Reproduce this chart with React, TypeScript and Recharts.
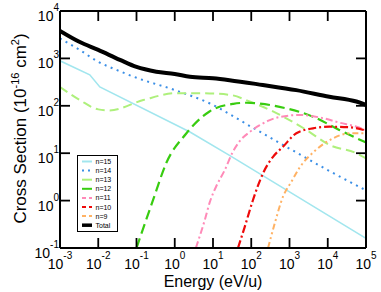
import React from 'react';
import { LineChart, Line, XAxis, YAxis, Legend } from 'recharts';

// ---- tick values ----
const X_TICKS = [1e-3, 1e-2, 1e-1, 1, 10, 100, 1e3, 1e4, 1e5];
const Y_TICKS = [0.1, 1, 10, 100, 1e3, 1e4];

// ---- series (energy in eV/u, cross section in 1e-16 cm^2) ----
const n15E = [0.001, 0.006, 0.011, 2.5, 27, 100000];
const n15V = [890, 450, 250, 28, 9, 0.16];

const n14E = [0.001, 0.0033, 0.01, 0.032, 0.1, 1, 8.3, 100, 1000, 10000, 100000];
const n14V = [2650, 1500, 850, 560, 390, 215, 112, 36, 12.5, 4.4, 1.65];

const n13E = [0.001, 0.0033, 0.01, 0.02, 0.15, 1.1, 4.6, 28, 91, 370, 2750, 11000, 56000, 100000];
const n13V = [250, 132, 84, 80, 132, 185, 185, 170, 123, 76, 31, 15, 10, 7.8];

const n12E = [0.1, 0.27, 0.6, 2, 8.1, 34, 75, 160, 550, 4100, 20000, 91000, 100000];
const n12V = [0.1, 1.02, 6.2, 26, 76, 110, 116, 112, 95, 59, 31, 17.4, 16.8];

const n11E = [3.56, 6.1, 8.25, 12.6, 20.3, 32.9, 50, 91, 167, 304, 555, 1850, 7360, 20500, 57000, 100000];
const n11V = [0.1, 0.39, 0.93, 2.13, 4.4, 10.6, 18, 28, 39, 50, 58, 64, 55, 44, 36, 31];

const n10E = [45, 67.6, 111, 203, 371, 676, 1510, 4110, 11200, 37300, 100000];
const n10V = [0.1, 0.28, 1.03, 3.77, 8.4, 13.7, 26.3, 33.5, 36.2, 35.2, 30];

const n9E = [275, 411, 676, 1120, 1850, 4550, 13700, 37300, 100000];
const n9V = [0.1, 0.33, 1.21, 2.5, 5.0, 11.1, 20.6, 26.3, 26.3];

const totalE = [0.001, 0.0032, 0.01, 0.037, 0.1, 0.33, 1, 2.5, 10, 27, 200, 1500, 11000, 56000, 100000];
const totalV = [3800, 2240, 1510, 930, 660, 525, 470, 410, 380, 347, 275, 214, 155, 123, 105];

const zip = (e: number[], v: number[]) => e.map((x, i) => ({ x, y: v[i] }));

const FONT = '"Liberation Sans", Arial, Helvetica, sans-serif';
const AXIS_W = 2;
const TICK_W = 1.8;

const series = [
  { name: 'n=15', data: zip(n15E, n15V), color: '#a2e6ee', w: 1.6, dash: undefined, ldash: undefined, curve: 'linear' },
  { name: 'n=14', data: zip(n14E, n14V), color: '#3b8fe6', w: 2, dash: '2 4.5', ldash: '2 4', curve: 'monotone' },
  { name: 'n=13', data: zip(n13E, n13V), color: '#aef07c', w: 2, dash: '9 5', ldash: undefined, curve: 'monotone' },
  { name: 'n=12', data: zip(n12E, n12V), color: '#38cc10', w: 2.2, dash: '10 5', ldash: undefined, curve: 'monotone' },
  { name: 'n=11', data: zip(n11E, n11V), color: '#ff8ab8', w: 2, dash: '7 3 2 3', ldash: '4 3', curve: 'monotone' },
  { name: 'n=10', data: zip(n10E, n10V), color: '#ee0a0a', w: 2.2, dash: '8 3 2 3', ldash: '4 3', curve: 'monotone' },
  { name: 'n=9', data: zip(n9E, n9V), color: '#ffb264', w: 2, dash: '6 3 2 3 2 3', ldash: '4 3', curve: 'monotone' },
  { name: 'Total', data: zip(totalE, totalV), color: '#000000', w: 4, dash: undefined, ldash: undefined, curve: 'monotone' },
];

const expOf = (v: number) => Math.round(Math.log10(v));

const BottomTick = (props: any) => {
  const { x, y, payload } = props;
  return (
    <g>
      <line x1={x} y1={y} x2={x} y2={y - 10} stroke="#000" strokeWidth={TICK_W} />
      <text x={x} y={y + 21} textAnchor="middle" fontFamily={FONT} fill="#000">
        <tspan fontSize={14}>10</tspan>
        <tspan fontSize={10} dy={-10}>{expOf(payload.value)}</tspan>
      </text>
    </g>
  );
};

const TopTick = (props: any) => {
  const { x, y } = props;
  return <line x1={x} y1={y} x2={x} y2={y + 10} stroke="#000" strokeWidth={TICK_W} />;
};

const LeftTick = (props: any) => {
  const { x, y, payload } = props;
  return (
    <g>
      <line x1={x} y1={y} x2={x + 10} y2={y} stroke="#000" strokeWidth={TICK_W} />
      <text x={x - 1} y={y + 10} textAnchor="end" fontFamily={FONT} fill="#000">
        <tspan fontSize={14}>10</tspan>
        <tspan fontSize={10} dy={-10}>{expOf(payload.value)}</tspan>
      </text>
    </g>
  );
};

const RightTick = (props: any) => {
  const { x, y } = props;
  return <line x1={x} y1={y} x2={x - 10} y2={y} stroke="#000" strokeWidth={TICK_W} />;
};

const XLabel = (props: any) => {
  const vb = props.viewBox || {};
  const cx = (vb.x ?? 60) + (vb.width ?? 306) / 2;
  const cy = (vb.y ?? 248) + 39;
  return (
    <text x={cx} y={cy} textAnchor="middle" fontFamily={FONT} fontSize={16} fill="#000">
      Energy (eV/u)
    </text>
  );
};

const YLabel = (props: any) => {
  const vb = props.viewBox || {};
  const cy = (vb.y ?? 11) + (vb.height ?? 237) / 2 - 1;
  const cx = 26;
  return (
    <text
      x={cx}
      y={cy}
      transform={`rotate(-90, ${cx}, ${cy})`}
      textAnchor="middle"
      fontFamily={FONT}
      fontSize={17}
      fill="#000"
    >
      <tspan>Cross Section (10</tspan>
      <tspan fontSize={11} dy={-7}>-16</tspan>
      <tspan dy={7}> cm</tspan>
      <tspan fontSize={11} dy={-7}>2</tspan>
      <tspan dy={7}>)</tspan>
    </text>
  );
};

const LegendBox = () => (
  <svg width={42} height={78} style={{ display: 'block' }}>
    <rect x={0.5} y={0.5} width={40} height={76} fill="#fff" stroke="#000" strokeWidth={1} />
    {series.map((s, i) => {
      const yy = 6.5 + i * 9.1;
      return (
        <g key={s.name}>
          <line
            x1={5}
            x2={15}
            y1={yy}
            y2={yy}
            stroke={s.color}
            strokeWidth={s.name === 'Total' ? 3.5 : 2}
            strokeDasharray={s.ldash}
          />
          <text x={18.5} y={yy + 2.5} fontFamily={FONT} fontSize={7} fill="#000">
            {s.name}
          </text>
        </g>
      );
    })}
  </svg>
);

export default function App() {
  return (
    <div style={{ position: 'absolute', left: 0, top: 0, width: 381, height: 292, background: '#fff' }}>
      <LineChart width={381} height={292} margin={{ top: 10, right: 14, bottom: 43, left: 59 }}>
        <XAxis
          xAxisId="b"
          dataKey="x"
          type="number"
          scale="log"
          domain={[1e-3, 1e5]}
          ticks={X_TICKS}
          interval={0}
          allowDataOverflow
          height={1}
          tickSize={0}
          tickMargin={0}
          tickLine={false}
          tick={<BottomTick />}
          axisLine={{ stroke: '#000', strokeWidth: AXIS_W }}
          label={<XLabel />}
        />
        <XAxis
          xAxisId="t"
          orientation="top"
          dataKey="x"
          type="number"
          scale="log"
          domain={[1e-3, 1e5]}
          ticks={X_TICKS}
          interval={0}
          allowDataOverflow
          height={1}
          tickSize={0}
          tickMargin={0}
          tickLine={false}
          tick={<TopTick />}
          axisLine={{ stroke: '#000', strokeWidth: AXIS_W }}
        />
        <YAxis
          yAxisId="l"
          type="number"
          scale="log"
          domain={[0.1, 1e4]}
          ticks={Y_TICKS}
          interval={0}
          allowDataOverflow
          width={1}
          tickSize={0}
          tickMargin={0}
          tickLine={false}
          tick={<LeftTick />}
          axisLine={{ stroke: '#000', strokeWidth: AXIS_W }}
          label={<YLabel />}
        />
        <YAxis
          yAxisId="r"
          orientation="right"
          type="number"
          scale="log"
          domain={[0.1, 1e4]}
          ticks={Y_TICKS}
          interval={0}
          allowDataOverflow
          width={1}
          tickSize={0}
          tickMargin={0}
          tickLine={false}
          tick={<RightTick />}
          axisLine={{ stroke: '#000', strokeWidth: AXIS_W }}
        />
        {series.map((s) => (
          <Line
            key={s.name}
            xAxisId="b"
            yAxisId="l"
            data={s.data}
            dataKey="y"
            name={s.name}
            type={s.curve as any}
            stroke={s.color}
            strokeWidth={s.w}
            strokeDasharray={s.dash}
            dot={false}
            activeDot={false}
            isAnimationActive={false}
          />
        ))}
        <Legend
          layout="vertical"
          align="center"
          verticalAlign="middle"
          content={<LegendBox />}
          wrapperStyle={{ position: 'absolute', left: 77, top: 155, width: 42, height: 78 }}
        />
      </LineChart>
    </div>
  );
}
